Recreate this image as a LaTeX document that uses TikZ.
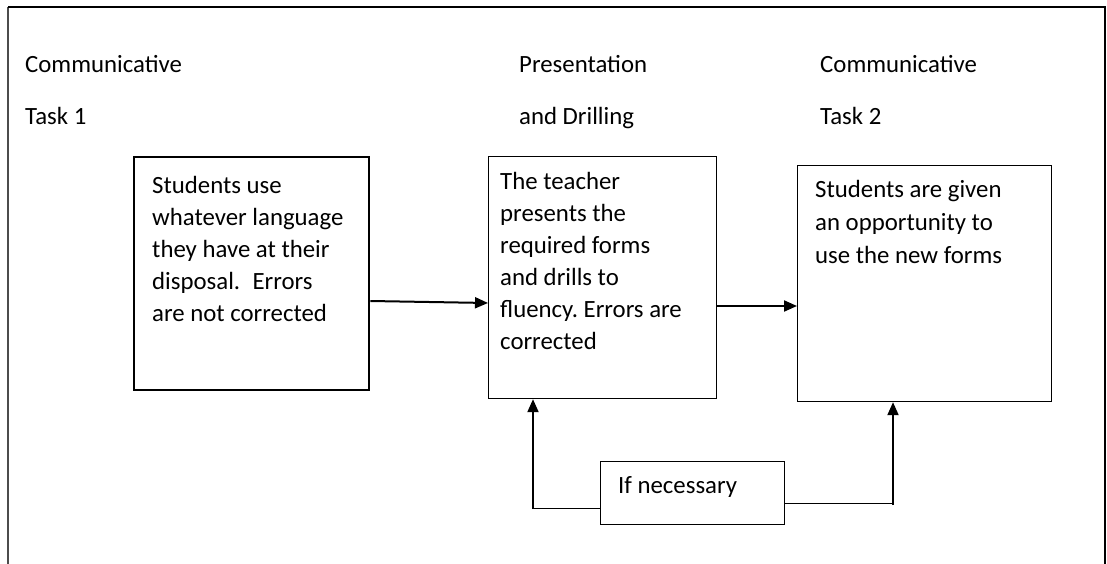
\documentclass[tikz,border=0pt]{standalone}
\usepackage{fontspec}
\setmainfont{Carlito}
\usetikzlibrary{arrows.meta,calc}
\frenchspacing
\begin{document}
\begin{tikzpicture}[x=1pt,y=-1pt,
  txt/.style={anchor=base west,align=left,inner sep=0pt,font=\fontsize{24.8}{32}\selectfont},
  head/.style={anchor=base west,align=left,inner sep=0pt,font=\fontsize{24.8}{52}\selectfont},
  boxthin/.style={draw,line width=1.2pt,anchor=north west,inner sep=0pt},
  boxthick/.style={draw,line width=2.4pt,anchor=north west,inner sep=0pt},
  arr/.style={line width=2pt,-{Triangle[length=13pt,width=11pt]}},
  link/.style={line width=1.1pt}]
\useasboundingbox (0,0) rectangle (1107,564);
% frame
\draw[line width=1.5pt,black!70] (8,564) -- (8,7);
\draw[line width=1.5pt] (8,7) -- (1105,7) -- (1105,564);
% headings (base = baseline of last line)
\node[head] (h1) at (25,125) {Communicative\\Task 1};
\node[head] (h2) at (519,125) {Presentation\\and Drilling};
\node[head] (h3) at (820,125) {Communicative\\Task 2};
% boxes
\node[boxthick,minimum width=235pt,minimum height=233pt] (b1) at (133,156) {};
\node[boxthin,minimum width=228pt,minimum height=242pt] (b2) at (488,156) {};
\node[boxthin,minimum width=254pt,minimum height=236pt] (b3) at (797,165) {};
\node[boxthin,minimum width=184pt,minimum height=63pt] (nec) at (600,461) {};
% texts
\node[txt] (t1) at (152,321) {Students use\\whatever language\\they have at their\\disposal.\hspace{0.5em}Errors\\are not corrected};
\node[txt] (t2) at (500,349) {The teacher\\presents the\\required forms\\and drills to\\fluency. Errors are\\corrected};
\node[txt,font=\fontsize{24.8}{33.3}\selectfont] (t3) at (815,263.6) {Students are given\\an opportunity to\\use the new forms};
\node[txt] (t4) at (618,493) {If necessary};
% connectors
\draw[arr] ([yshift=-145pt]b1.north east) -- ([yshift=-147pt]b2.north west);
\draw[arr] ([yshift=-150pt]b2.north east) -- ([yshift=-141pt]b3.north west);
\coordinate (c1) at (533,509);
\coordinate (c2) at (893,505);
\draw[link] ([yshift=-15pt]nec.west) -- ([yshift=-15pt]nec.west -| c1);
\draw[arr] (c1) -- (c1 |- b2.south);
\draw[link] ([yshift=-10.5pt]nec.east) -- ([yshift=-10.5pt]nec.east -| c2);
\draw[arr] (c2) -- (c2 |- b3.south);
\end{tikzpicture}
\end{document}
